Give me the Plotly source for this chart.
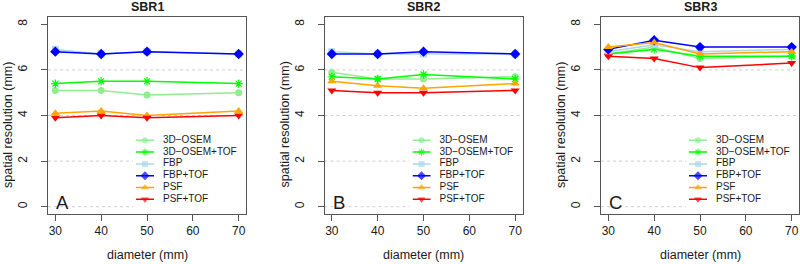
import plotly.graph_objects as go

# ---------------- data ----------------
diameters = [30, 40, 50, 70]
series_names = ["3D\u2212OSEM", "3D\u2212OSEM+TOF", "FBP", "FBP+TOF", "PSF", "PSF+TOF"]
panel_titles = ["SBR1", "SBR2", "SBR3"]
panel_letters = ["A", "B", "C"]
y_ticks = [0, 2, 4, 6, 8]
x_ticks = [30, 40, 50, 60, 70]
grid_levels = [0, 2, 4, 6]

sbr1_osem = [5.1, 5.1, 4.9, 5.0]
sbr1_osem_tof = [5.4, 5.5, 5.5, 5.4]
sbr1_fbp = [6.9, 6.7, 6.8, 6.7]
sbr1_fbp_tof = [6.8, 6.7, 6.8, 6.7]
sbr1_psf = [4.1, 4.2, 4.0, 4.2]
sbr1_psf_tof = [3.9, 4.0, 3.9, 4.0]

sbr2_osem = [5.9, 5.6, 5.6, 5.7]
sbr2_osem_tof = [5.7, 5.6, 5.8, 5.6]
sbr2_fbp = [6.8, 6.7, 6.7, 6.7]
sbr2_fbp_tof = [6.7, 6.7, 6.8, 6.7]
sbr2_psf = [5.5, 5.3, 5.2, 5.4]
sbr2_psf_tof = [5.1, 5.0, 5.0, 5.1]

sbr3_osem = [6.7, 7.0, 6.5, 6.6]
sbr3_osem_tof = [6.7, 6.9, 6.6, 6.6]
sbr3_fbp = [6.8, 7.1, 6.8, 6.9]
sbr3_fbp_tof = [6.9, 7.3, 7.0, 7.0]
sbr3_psf = [7.0, 7.2, 6.7, 6.8]
sbr3_psf_tof = [6.6, 6.5, 6.1, 6.3]

panels = [
    [sbr1_osem, sbr1_osem_tof, sbr1_fbp, sbr1_fbp_tof, sbr1_psf, sbr1_psf_tof],
    [sbr2_osem, sbr2_osem_tof, sbr2_fbp, sbr2_fbp_tof, sbr2_psf, sbr2_psf_tof],
    [sbr3_osem, sbr3_osem_tof, sbr3_fbp, sbr3_fbp_tof, sbr3_psf, sbr3_psf_tof],
]

# ---------------- styles ----------------
colors = ["#90EE90", "#00FF00", "#ADD8E6", "#0000FF", "#FFA500", "#FF0000"]
symbols = ["circle", "asterisk-open", "square", "diamond", "triangle-up", "triangle-down"]
msizes = [7, 7, 7, 8, 8, 8]

W, H = 800, 264
FONT = "Liberation Sans, Arial, Helvetica, sans-serif"
TXT = "#1a1a1a"
AX = "#555555"
panel_left = [48, 324.5, 601]
panel_w = 198
box_top, box_bot = 17, 214


def fx(px):
    return px / W


def fy(py):
    return 1 - py / H


fig = go.Figure()
layout = dict(
    width=W, height=H,
    margin=dict(l=0, r=0, t=0, b=0),
    paper_bgcolor="white", plot_bgcolor="rgba(0,0,0,0)",
    showlegend=False,
    font=dict(family=FONT, color=TXT),
)
annotations = []
shapes = []


def marker_line(i):
    if symbols[i].endswith("open"):
        return dict(color=colors[i], width=1.2)
    return dict(width=0)


for p in range(3):
    k = p + 1
    sfx = "" if k == 1 else str(k)
    left = panel_left[p]
    right = left + panel_w
    xa, ya = "x" + sfx, "y" + sfx

    layout["xaxis" + sfx] = dict(
        domain=[fx(left), fx(right)], anchor=ya, range=[28.4, 71.6],
        tickvals=x_ticks, ticks="outside", ticklen=6, tickcolor=AX, tickwidth=1,
        showline=True, linecolor=AX, linewidth=1, mirror=True,
        showgrid=False, zeroline=False,
        tickfont=dict(size=12, family=FONT, color=TXT),
    )
    layout["yaxis" + sfx] = dict(
        domain=[fy(box_bot), fy(box_top)], anchor=xa, range=[-0.32, 8.32],
        tickvals=y_ticks, ticks="outside", ticklen=6, tickcolor=AX, tickwidth=1,
        tickangle=-90, ticklabelstandoff=9,
        showline=True, linecolor=AX, linewidth=1, mirror=True,
        showgrid=False, zeroline=False,
        tickfont=dict(size=12, family=FONT, color=TXT),
    )

    # dotted grid lines
    for v in grid_levels:
        shapes.append(dict(type="line", xref=xa + " domain", yref=ya,
                           x0=0, x1=1, y0=v, y1=v, layer="below",
                           line=dict(color="#cfcfcf", width=1, dash="3px,3px")))
    # white legend background
    shapes.append(dict(type="rect", xref="paper", yref="paper",
                       x0=fx(left + 85), x1=fx(right - 1),
                       y0=fy(box_bot - 1), y1=fy(130),
                       fillcolor="white", line=dict(width=0), layer="below"))

    # data traces
    for i, vals in enumerate(panels[p]):
        fig.add_trace(go.Scatter(
            x=diameters, y=vals, mode="lines+markers",
            line=dict(color=colors[i], width=1.5),
            marker=dict(symbol=symbols[i], size=msizes[i], color=colors[i], line=marker_line(i)),
            xaxis=xa, yaxis=ya, name=series_names[i], hoverinfo="x+y+name",
        ))

    # custom legend on its own hidden axes
    lk = str(k + 3)
    lxa, lya = "x" + lk, "y" + lk
    layout["xaxis" + lk] = dict(domain=[fx(left + 88), fx(right)], anchor=lya,
                                range=[0, 110], visible=False, fixedrange=True)
    layout["yaxis" + lk] = dict(domain=[fy(205.2), fy(134.4)], anchor=lxa,
                                range=[5.5, -0.5], visible=False, fixedrange=True)
    for i in range(len(series_names)):
        fig.add_trace(go.Scatter(
            x=[0, 9, 18], y=[i, i, i], mode="lines+markers",
            line=dict(color=colors[i], width=1.5),
            marker=dict(symbol=symbols[i], color=colors[i],
                        size=[0, msizes[i] - 1, 0], line=marker_line(i)),
            xaxis=lxa, yaxis=lya, hoverinfo="skip",
        ))
    fig.add_trace(go.Scatter(
        x=[27] * len(series_names), y=list(range(len(series_names))),
        mode="text", text=series_names, textposition="middle right",
        textfont=dict(size=10, family=FONT, color=TXT),
        xaxis=lxa, yaxis=lya, hoverinfo="skip",
    ))

    # panel title
    annotations.append(dict(text="<b>" + panel_titles[p] + "</b>", xref="paper", yref="paper",
                            x=fx(left + panel_w / 2), y=fy(7), xanchor="center", yanchor="middle",
                            showarrow=False, font=dict(size=12.5, family=FONT, color=TXT)))
    # panel letter
    annotations.append(dict(text=panel_letters[p], xref="paper", yref="paper",
                            x=fx(left + 14), y=fy(202), xanchor="center", yanchor="middle",
                            showarrow=False, font=dict(size=18.5, family=FONT, color=TXT)))
    # x axis title
    annotations.append(dict(text="diameter (mm)", xref="paper", yref="paper",
                            x=fx(left + panel_w / 2), y=fy(255), xanchor="center", yanchor="middle",
                            showarrow=False, font=dict(size=12.5, family=FONT, color=TXT)))
    # y axis title
    annotations.append(dict(text="spatial resolution (mm)", xref="paper", yref="paper",
                            x=fx(left - 40), y=fy(125), xanchor="center", yanchor="middle",
                            textangle=-90,
                            showarrow=False, font=dict(size=12.5, family=FONT, color=TXT)))

layout["annotations"] = annotations
layout["shapes"] = shapes
fig.update_layout(**layout)
fig.write_html(
    "out.html",
    config={"displayModeBar": False},
    post_script="document.body.style.margin='0px';document.body.style.padding='0px';",
)
